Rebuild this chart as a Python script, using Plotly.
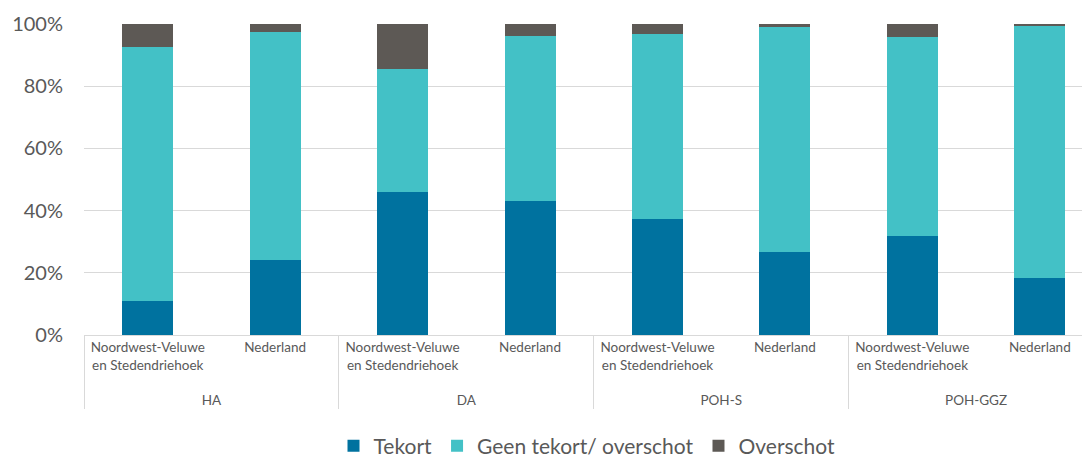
import plotly.graph_objects as go

groups = ["HA", "HA", "DA", "DA", "POH-S", "POH-S", "POH-GGZ", "POH-GGZ"]
regions = ["Noordwest-Veluwe<br>en Stedendriehoek<br> ", "Nederland"] * 4

tekort = [0.11, 0.24, 0.46, 0.43, 0.373, 0.268, 0.319, 0.184]
geen = [0.815, 0.735, 0.396, 0.533, 0.594, 0.723, 0.639, 0.808]
overschot = [0.075, 0.025, 0.144, 0.037, 0.033, 0.009, 0.042, 0.008]

series_names = ["Tekort", "Geen tekort/ overschot", "Overschot"]
series_values = [tekort, geen, overschot]
colors = ["#00729f", "#43c1c6", "#5d5955"]

fig = go.Figure()
for name, vals, col in zip(series_names, series_values, colors):
    fig.add_trace(go.Bar(
        x=[groups, regions], y=vals, name=name,
        marker=dict(color=col, line=dict(width=0)),
        width=0.4,
    ))

fig.update_layout(
    barmode="stack",
    width=1082, height=456,
    margin=dict(l=76, r=0, t=16, b=129, autoexpand=False),
    paper_bgcolor="white", plot_bgcolor="white",
    font=dict(family="Lato, 'Open Sans', sans-serif", color="#595959"),
    showlegend=True,
    legend=dict(orientation="h", x=0.5, xanchor="center", y=-0.357, yanchor="middle",
                font=dict(size=21, color="#595959"), itemwidth=30, traceorder="normal"),
    bargap=0.6,
)
fig.update_yaxes(
    range=[0, 1], tickvals=[0, 0.2, 0.4, 0.6, 0.8, 1.0], tickformat=".0%",
    showgrid=True, gridcolor="#d9d9d9", gridwidth=1.2,
    zeroline=False, showline=False, automargin=False,
    tickfont=dict(size=20, color="#595959"), ticklabelstandoff=20,
)
fig.update_xaxes(
    type="multicategory", range=[-0.5, 7.394], automargin=False,
    showline=True, linecolor="#d9d9d9", linewidth=1.2,
    showdividers=True, dividercolor="#d9d9d9", dividerwidth=1.2,
    tickfont=dict(size=13.5, color="#595959"),
    showgrid=False,
)

fig.write_html("out.html")
